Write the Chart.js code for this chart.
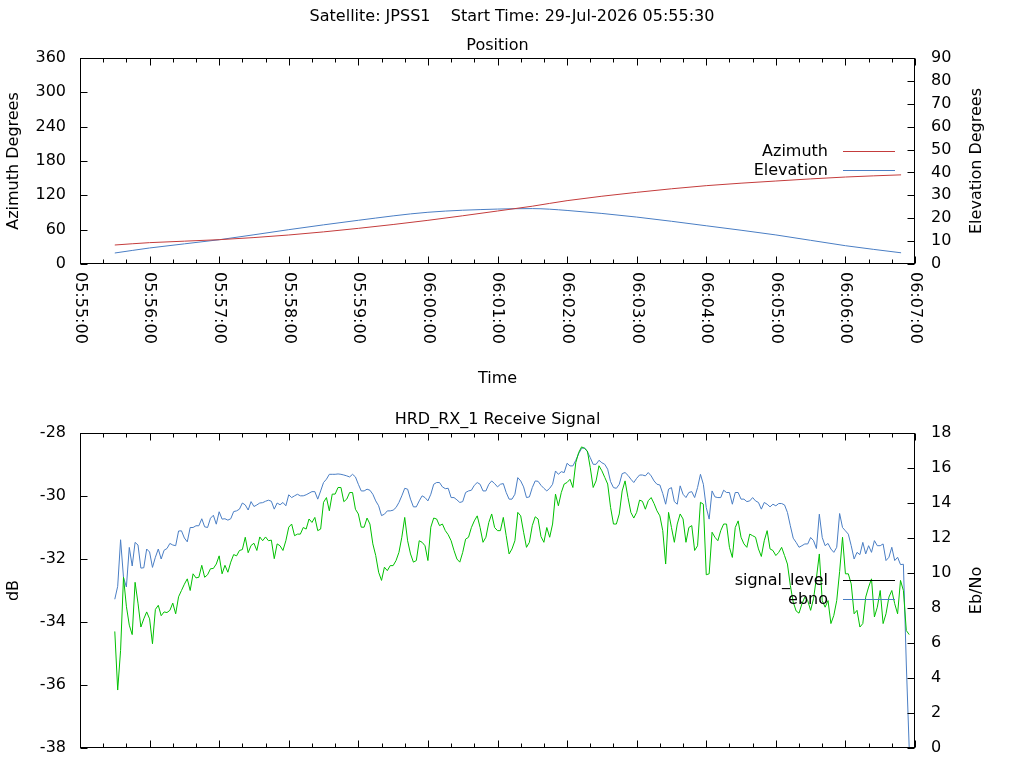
<!DOCTYPE html>
<html>
<head>
<meta charset="utf-8">
<title>JPSS1 pass - HRD_RX_1</title>
<script src="https://cdn.jsdelivr.net/npm/chart.js@4.4.1/dist/chart.umd.min.js"></script>
<style>
  html, body { margin: 0; padding: 0; background: #fff; }
  #wrap { position: relative; width: 1024px; height: 768px; overflow: hidden; }
  canvas { position: absolute; left: 0; }
  #posChart { top: 0; }
  #sigChart { top: 400px; }
</style>
</head>
<body>
<div id="wrap">
  <canvas id="posChart" width="1024" height="400"></canvas>
  <!-- runs a little past the page bottom, like the cut-off gnuplot panel -->
  <canvas id="sigChart" width="1024" height="374"></canvas>
</div>
<script>
// x values are seconds after 05:55:00
const BASE_SECONDS = 5 * 3600 + 55 * 60;

// position panel
const positionTimes = [30, 60, 120, 180, 240, 300, 360, 390, 420, 480, 540, 600, 660, 708];
const azimuth = [33.2, 37.3, 42.5, 50.7, 62.3, 76.3, 92.6, 101.0, 110.7, 125.2, 136.9, 145.0, 152.0, 155.8];
const elevation = [4.8, 7.0, 10.6, 15.0, 19.1, 22.6, 24.0, 24.2, 23.4, 20.5, 16.7, 12.7, 8.0, 4.9];

// receive signal panel, one sample every 2.5 s from 05:55:30 (10 per row = 25 s)
const signalStart = 30;
const signalStep = 2.5;
const signalLevel = [
  -34.3, -36.16, -34.9, -32.58, -33.5, -34.1, -34.4, -32.74, -33.4, -34.16,
  -33.9, -33.68, -33.9, -34.69, -33.6, -33.47, -33.8, -33.68, -33.7, -33.63,
  -33.4, -33.74, -33.2, -33.0, -32.8, -32.63, -33.0, -32.47, -32.6, -32.58,
  -32.2, -32.58, -32.5, -32.31, -32.3, -32.16, -31.9, -32.47, -32.2, -32.42,
  -32.1, -31.86, -31.9, -31.73, -31.7, -31.31, -31.8, -31.57, -31.5, -31.73,
  -31.3, -31.42, -31.3, -31.42, -31.4, -31.99, -31.52, -31.58, -31.73, -31.42,
  -30.99, -30.89, -31.26, -31.21, -31.21, -31.0, -31.05, -30.73, -30.84, -30.68,
  -31.10, -31.05, -30.20, -30.05, -30.47, -29.94, -29.94, -29.73, -29.73, -30.18,
  -30.10, -29.89, -29.89, -30.42, -30.57, -30.99, -30.99, -30.70, -30.89, -31.52,
  -31.89, -32.42, -32.68, -32.26, -32.37, -32.21, -32.21, -32.05, -31.79, -31.31,
  -30.68, -31.42, -31.84, -32.10, -32.05, -31.42, -31.47, -31.58, -32.05, -30.99,
  -30.70, -30.73, -30.94, -30.89, -31.10, -31.23, -31.42, -31.73, -32.0, -32.10,
  -31.79, -31.37, -31.31, -31.0, -30.79, -30.63, -31.0, -31.47, -31.31, -30.84,
  -30.57, -31.0, -31.10, -31.10, -30.68, -31.26, -31.84, -31.68, -31.42, -30.52,
  -30.63, -31.15, -31.63, -31.47, -30.94, -30.66, -30.73, -31.29, -31.47, -31.0,
  -31.31, -30.89, -29.94, -30.31, -29.89, -29.62, -29.57, -29.47, -29.73, -28.94,
  -28.62, -28.44, -28.49, -28.57, -29.10, -29.73, -29.52, -29.04, -29.2, -29.41,
  -29.62, -30.36, -30.89, -30.89, -30.57, -29.84, -29.52, -30.05, -30.52, -30.70,
  -30.52, -30.13, -30.17, -30.42, -30.15, -30.05, -30.24, -30.47, -30.63, -31.10,
  -32.16, -30.52, -31.00, -31.47, -30.89, -30.57, -30.73, -31.47, -31.00, -30.94,
  -31.73, -31.58, -30.2, -30.26, -32.5, -32.47, -31.15, -31.31, -31.42, -31.10,
  -30.89, -30.89, -31.63, -31.95, -31.0, -30.79, -31.31, -31.52, -31.63, -31.21,
  -31.26, -31.31, -31.68, -31.92, -31.42, -31.10, -31.68, -31.73, -31.89, -31.79,
  -31.63, -31.89, -32.16, -32.84, -33.37, -33.65, -33.72, -33.42, -33.21, -33.32,
  -33.63, -33.26, -32.6, -31.84, -33.32, -33.53, -33.32, -34.05, -33.79, -33.32,
  -32.4, -31.31, -32.47, -32.47, -32.79, -33.74, -33.63, -34.16, -34.05, -33.21,
  -32.89, -32.63, -33.84, -33.53, -33.0, -34.05, -33.74, -33.21, -33.0, -33.42,
  -33.74, -32.68, -33.0, -34.27, -34.4
];
const ebno = [
  8.5, 9.24, 11.9, 9.75, 9.2, 11.46, 10.4, 11.75, 11.6, 10.28,
  10.3, 11.37, 11.2, 10.32, 10.9, 11.37, 10.8, 11.3, 11.4, 11.69,
  11.6, 11.56, 12.4, 12.41, 12.0, 11.78, 12.6, 12.6, 12.7, 12.7,
  13.1, 12.64, 12.6, 13.13, 13.3, 12.79, 13.5, 13.08, 13.1, 13.02,
  13.1, 13.51, 13.55, 13.65, 14.0, 13.89, 13.6, 14.08, 13.8, 13.89,
  14.0, 14.02, 14.1, 14.16, 14.1, 13.65, 14.0, 13.9, 14.03, 13.84,
  14.47, 14.31, 14.41, 14.50, 14.41, 14.41, 14.47, 14.56, 14.65, 14.65,
  14.22, 14.69, 15.17, 15.36, 15.64, 15.64, 15.64, 15.66, 15.64, 15.60,
  15.55, 15.49, 15.64, 15.49, 15.07, 14.69, 14.69, 14.79, 14.73, 14.50,
  14.12, 13.84, 13.28, 13.36, 13.55, 13.55, 13.59, 13.74, 14.03, 14.41,
  14.84, 14.79, 14.22, 13.78, 13.78, 14.12, 14.41, 14.31, 14.12, 14.50,
  15.07, 15.17, 15.17, 14.92, 14.82, 14.84, 14.31, 14.31, 14.18, 14.03,
  14.08, 14.60, 14.69, 14.73, 15.01, 15.17, 15.07, 14.69, 14.69, 15.07,
  15.26, 15.11, 14.92, 15.07, 15.11, 14.60, 14.22, 14.22, 14.50, 15.45,
  15.26, 14.92, 14.31, 14.35, 14.88, 15.26, 15.24, 15.01, 14.84, 14.69,
  14.84, 15.07, 15.83, 15.64, 15.79, 15.74, 16.27, 16.12, 16.12, 16.44,
  16.82, 17.12, 17.16, 16.93, 16.59, 16.21, 16.21, 16.44, 16.3, 16.21,
  15.93, 15.22, 14.88, 14.84, 15.07, 15.68, 15.74, 15.58, 15.36, 15.17,
  15.41, 15.60, 15.60, 15.55, 15.74, 15.55, 15.26, 15.07, 15.03, 14.54,
  13.93, 14.79, 14.88, 14.08, 13.93, 14.98, 14.50, 14.31, 14.60, 14.65,
  14.31, 14.88, 15.64, 15.07, 13.74, 13.08, 14.69, 14.35, 14.31, 14.31,
  14.73, 14.60, 14.60, 13.93, 14.60, 14.60, 14.22, 14.22, 14.08, 14.12,
  14.31, 14.12, 14.03, 13.65, 14.03, 13.93, 13.78, 13.93, 13.84, 13.97,
  13.97, 13.89, 13.46, 12.70, 11.99, 11.75, 11.47, 11.56, 11.66, 11.66,
  12.03, 11.85, 11.4, 13.36, 12.03, 11.56, 11.69, 11.37, 11.18, 11.47,
  13.4, 12.6, 12.41, 12.22, 11.56, 10.80, 11.18, 11.05, 11.75, 11.09,
  11.56, 11.18, 11.85, 11.56, 11.56, 11.66, 10.71, 10.90, 11.47, 10.71,
  10.90, 10.48, 10.5, 4.8, 0
];

const RED = '#c43c3c';
const BLUE = '#4a7ec4';
const GREEN = '#00c000';
const FONT = "16px 'DejaVu Sans', sans-serif";

Chart.defaults.font.family = "'DejaVu Sans', sans-serif";
Chart.defaults.font.size = 16;
Chart.defaults.color = '#000';

function clock(sec) {
    const s = BASE_SECONDS + sec;
    const pad = n => String(n).padStart(2, '0');
    return pad(Math.floor(s / 3600)) + ':' + pad(Math.floor(s / 60) % 60) + ':' + pad(s % 60);
}

function toPoints(xs, ys) {
    return ys.map((y, i) => ({ x: xs[i], y: y }));
}

const signalTimes = signalLevel.map((v, i) => signalStart + i * signalStep);

// gnuplot look: closed border, inward ticks, rotated time labels, key on the right
const gnuplotFrame = {
    id: 'gnuplotFrame',
    afterDatasetsDraw(chart, args, opts) {
        const { ctx, chartArea: a, scales } = chart;
        const L = Math.round(a.left) + 0.5, R = Math.round(a.right) - 0.5;
        const T = Math.round(a.top) + 0.5, B = Math.round(a.bottom) - 0.5;
        ctx.save();
        ctx.strokeStyle = '#000';
        ctx.lineWidth = 1;
        ctx.strokeRect(L, T, R - L, B - T);

        ctx.beginPath();
        scales.x.ticks.forEach(t => {
            const px = Math.round(scales.x.getPixelForValue(t.value)) + 0.5;
            const len = t.value % 60 === 0 ? 7 : 4;
            ctx.moveTo(px, B); ctx.lineTo(px, B - len);
            ctx.moveTo(px, T); ctx.lineTo(px, T + len);
        });
        scales.y.ticks.forEach(t => {
            const py = Math.round(scales.y.getPixelForValue(t.value)) + 0.5;
            ctx.moveTo(L, py); ctx.lineTo(L + 7, py);
        });
        scales.y2.ticks.forEach(t => {
            const py = Math.round(scales.y2.getPixelForValue(t.value)) + 0.5;
            ctx.moveTo(R, py); ctx.lineTo(R - 7, py);
        });
        ctx.stroke();

        ctx.fillStyle = '#000';
        ctx.font = FONT;

        if (opts.timeLabels) {
            ctx.textAlign = 'left';
            ctx.textBaseline = 'middle';
            scales.x.ticks.filter(t => t.value % 60 === 0).forEach(t => {
                ctx.save();
                ctx.translate(scales.x.getPixelForValue(t.value), a.bottom + 8);
                ctx.rotate(Math.PI / 2);
                ctx.fillText(clock(t.value), 0, 0);
                ctx.restore();
            });
        }

        // right axis title reads upwards like the left one
        ctx.save();
        ctx.translate(a.right + 62, (a.top + a.bottom) / 2);
        ctx.rotate(-Math.PI / 2);
        ctx.textAlign = 'center';
        ctx.textBaseline = 'middle';
        ctx.fillText(opts.rightTitle, 0, 0);
        ctx.restore();

        // key
        ctx.textAlign = 'right';
        ctx.textBaseline = 'middle';
        chart.data.datasets.forEach((ds, i) => {
            const yy = Math.round(a.top + opts.keyTop + i * 19) + 0.5;
            ctx.fillStyle = '#000';
            ctx.fillText(ds.label, a.right - 87, yy);
            ctx.strokeStyle = opts.keyColors[i];
            ctx.beginPath();
            ctx.moveTo(a.right - 72, yy);
            ctx.lineTo(a.right - 20, yy);
            ctx.stroke();
        });
        ctx.restore();
    }
};

function lineSet(label, data, color, axis, smooth) {
    return {
        label: label,
        data: data,
        yAxisID: axis,
        borderColor: color,
        backgroundColor: color,
        borderWidth: 1,
        pointRadius: 0,
        fill: false,
        cubicInterpolationMode: smooth ? 'monotone' : 'default',
        tension: 0
    };
}

function timeAxis(height, title) {
    return {
        type: 'linear',
        min: 0,
        max: 720,
        ticks: { stepSize: 20, display: false },
        grid: { display: false, drawTicks: false },
        border: { display: false },
        title: title ? { display: true, text: title, padding: { top: 0, bottom: 11.4 } } : { display: false },
        afterFit: s => { s.height = height; }
    };
}

function valueAxis(pos, min, max, step, title) {
    return {
        position: pos,
        min: min,
        max: max,
        ticks: { stepSize: step, autoSkip: false, padding: pos === 'left' ? 14 : 16 },
        grid: { display: false, drawTicks: false },
        border: { display: false },
        title: title ? { display: true, text: title, padding: { top: 4.4, bottom: 0 } } : { display: false },
        afterFit: s => { s.width = pos === 'left' ? 80 : 109; }
    };
}

new Chart(document.getElementById('posChart'), {
    type: 'line',
    data: {
        datasets: [
            lineSet('Azimuth', toPoints(positionTimes, azimuth), RED, 'y', true),
            lineSet('Elevation', toPoints(positionTimes, elevation), BLUE, 'y2', true)
        ]
    },
    options: {
        responsive: false,
        animation: false,
        events: [],
        layout: { padding: 0 },
        plugins: {
            legend: { display: false },
            tooltip: { enabled: false },
            title: {
                display: true,
                text: 'Satellite: JPSS1    Start Time: 29-Jul-2026 05:55:30',
                font: { size: 16, weight: 'normal' },
                padding: { top: 7.4, bottom: 0 }
            },
            subtitle: {
                display: true,
                text: 'Position',
                fullSize: false,
                font: { size: 16, weight: 'normal' },
                padding: { top: 9.8, bottom: 2.4 }
            },
            gnuplotFrame: { timeLabels: true, rightTitle: 'Elevation Degrees', keyTop: 93, keyColors: [RED, BLUE] }
        },
        scales: {
            x: timeAxis(136, 'Time'),
            y: valueAxis('left', 0, 360, 60, 'Azimuth Degrees'),
            y2: valueAxis('right', 0, 90, 10, null)
        }
    },
    plugins: [gnuplotFrame]
});

new Chart(document.getElementById('sigChart'), {
    type: 'line',
    data: {
        datasets: [
            lineSet('signal_level', toPoints(signalTimes, signalLevel), GREEN, 'y', false),
            lineSet('ebno', toPoints(signalTimes, ebno), BLUE, 'y2', false)
        ]
    },
    options: {
        responsive: false,
        animation: false,
        events: [],
        layout: { padding: 0 },
        plugins: {
            legend: { display: false },
            tooltip: { enabled: false },
            title: {
                display: true,
                text: 'HRD_RX_1 Receive Signal',
                fullSize: false,
                font: { size: 16, weight: 'normal' },
                padding: { top: 10.4, bottom: 3.4 }
            },
            gnuplotFrame: { timeLabels: false, rightTitle: 'Eb/No', keyTop: 147, keyColors: ['#000', BLUE] }
        },
        scales: {
            // keep it taller than the y label overhang so the plot ends 20px above the page edge
            x: timeAxis(26, null),
            y: valueAxis('left', -38, -28, 2, 'dB'),
            y2: valueAxis('right', 0, 18, 2, null)
        }
    },
    plugins: [gnuplotFrame]
});
</script>
</body>
</html>
